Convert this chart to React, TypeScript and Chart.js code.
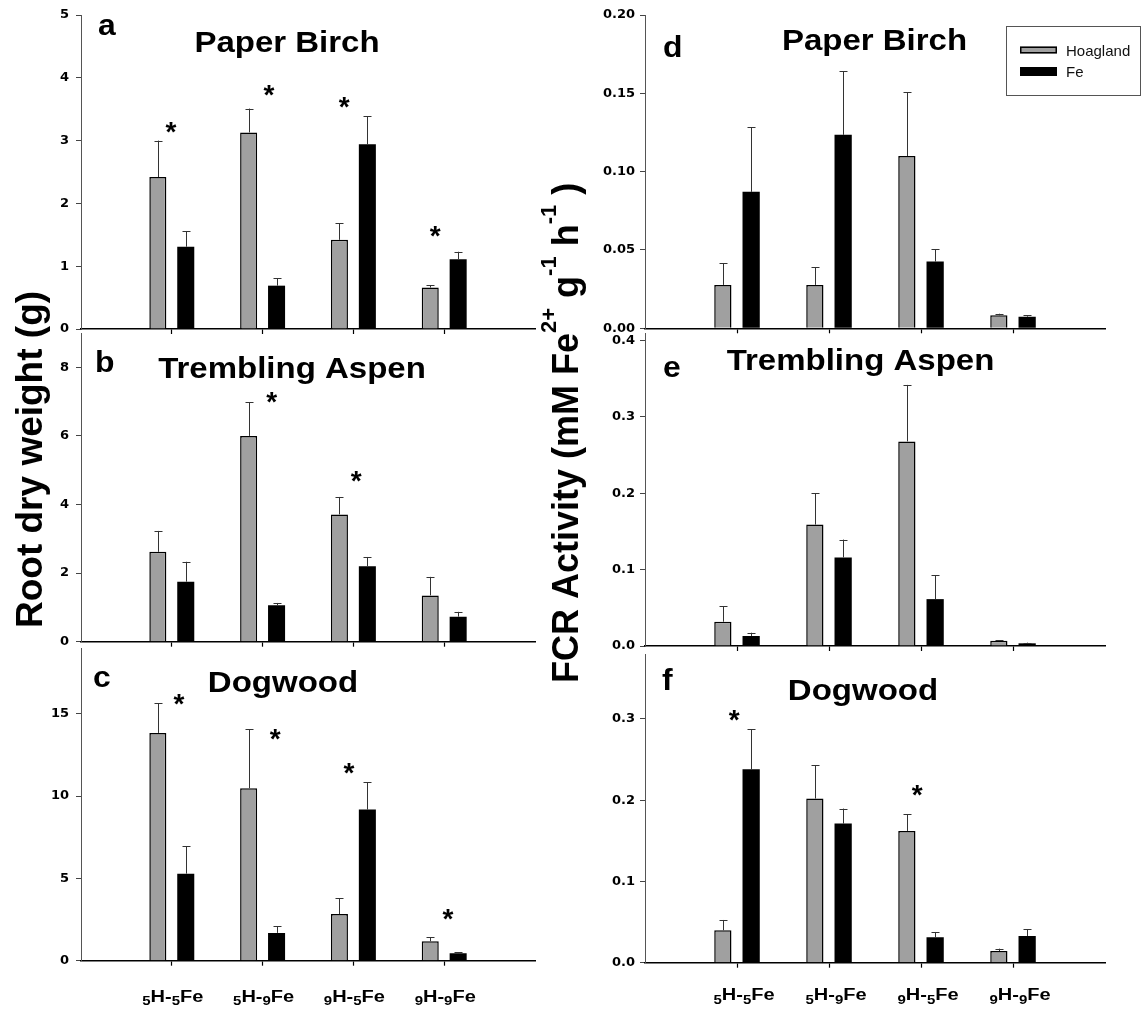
import React, { useEffect, useRef } from 'react';
import { Chart, registerables } from 'chart.js';

Chart.register(...registerables);

const W = 1143;
const H = 1010;

const categories = ['5H-5Fe', '5H-9Fe', '9H-5Fe', '9H-9Fe'];
const seriesNames = ['Hoagland', 'Fe'];

// ---- Root dry weight (g) ----
const birchRootHoagland = [2.42, 3.13, 1.42, 0.66];
const birchRootHoaglandSE = [0.58, 0.38, 0.26, 0.04];
const birchRootFe = [1.31, 0.69, 2.94, 1.11];
const birchRootFeSE = [0.25, 0.12, 0.45, 0.12];
const birchRootStars = [3.25, 3.83, 3.65, 1.59];
const birchRootTicks = [0, 1, 2, 3, 4, 5];

const aspenRootHoagland = [2.62, 6.0, 3.71, 1.35];
const aspenRootHoaglandSE = [0.61, 0.98, 0.51, 0.54];
const aspenRootFe = [1.75, 1.06, 2.2, 0.73];
const aspenRootFeSE = [0.58, 0.07, 0.27, 0.14];
const aspenRootStars = [null, 7.18, 4.9, null];
const aspenRootTicks = [0, 2, 4, 6, 8];

const dogwoodRootHoagland = [13.84, 10.48, 2.83, 1.18];
const dogwoodRootHoaglandSE = [1.81, 3.59, 0.96, 0.25];
const dogwoodRootFe = [5.29, 1.69, 9.18, 0.45];
const dogwoodRootFeSE = [1.65, 0.41, 1.65, 0.06];
const dogwoodRootStars = [16.0, 13.9, 11.8, 2.95];
const dogwoodRootTicks = [0, 5, 10, 15];

// ---- FCR activity ----
const birchFcrHoagland = [0.0277, 0.0277, 0.11, 0.0083];
const birchFcrHoaglandSE = [0.0138, 0.0113, 0.0408, 0.001];
const birchFcrFe = [0.0871, 0.1235, 0.0426, 0.0074];
const birchFcrFeSE = [0.0413, 0.0405, 0.0079, 0.0009];
const birchFcrStars = [null, null, null, null];
const birchFcrTicks = [0, 0.05, 0.1, 0.15, 0.2];

const aspenFcrHoagland = [0.0318, 0.159, 0.268, 0.007];
const aspenFcrHoaglandSE = [0.0205, 0.0414, 0.074, 0.0005];
const aspenFcrFe = [0.0131, 0.116, 0.0614, 0.0035];
const aspenFcrFeSE = [0.0043, 0.0234, 0.0314, 0.0009];
const aspenFcrStars = [null, null, null, null];
const aspenFcrTicks = [0, 0.1, 0.2, 0.3, 0.4];

const dogwoodFcrHoagland = [0.0399, 0.202, 0.1622, 0.0144];
const dogwoodFcrHoaglandSE = [0.0127, 0.0411, 0.0205, 0.0029];
const dogwoodFcrFe = [0.238, 0.1712, 0.0313, 0.0329];
const dogwoodFcrFeSE = [0.0494, 0.0185, 0.0065, 0.0082];
const dogwoodFcrStars = [0.307, null, 0.215, null];
const dogwoodFcrTicks = [0, 0.1, 0.2, 0.3];

const leftTitle = 'Root dry weight (g)';
const rightTitleParts = [
  { t: 'FCR Activity (mM Fe', sup: false },
  { t: '2+', sup: true },
  { t: ' g', sup: false },
  { t: '-1', sup: true },
  { t: ' h', sup: false },
  { t: '-1', sup: true },
  { t: ' )', sup: false },
];

// ---- layout / styling (not data) ----
const LEFT_COL = { left: 81, right: 535 };
const RIGHT_COL = { left: 645, right: 1105 };
const GRAY = '#a0a0a0';
const XH = 10;

type Panel = {
  letter: string;
  title: string;
  hoag: number[];
  hoagSE: number[];
  fe: number[];
  feSE: number[];
  stars: (number | null)[];
  starDx: number[];
  ticks: number[];
  yMax: number;
  decimals: number;
  area: { left: number; right: number; top: number; bottom: number };
  letterAt: [number, number];
  titleAt: [number, number];
  tickPad: number;
  showX?: boolean;
  labelDx?: number;
  labelBase?: number;
  legend?: boolean;
  leftTitle?: boolean;
  rightTitle?: boolean;
};

const panels: Panel[] = [
  {
    letter: 'a', title: 'Paper Birch',
    hoag: birchRootHoagland, hoagSE: birchRootHoaglandSE, fe: birchRootFe, feSE: birchRootFeSE,
    stars: birchRootStars, starDx: [-0.01, 0.07, -0.1, -0.1],
    ticks: birchRootTicks, yMax: 5, decimals: 0,
    area: { ...LEFT_COL, top: 15, bottom: 329 }, letterAt: [98, 35], titleAt: [287, 51.7], tickPad: 7,
  },
  {
    letter: 'b', title: 'Trembling Aspen',
    hoag: aspenRootHoagland, hoagSE: aspenRootHoaglandSE, fe: aspenRootFe, feSE: aspenRootFeSE,
    stars: aspenRootStars, starDx: [0, 0.1, 0.03, 0],
    ticks: aspenRootTicks, yMax: 9, decimals: 0,
    area: { ...LEFT_COL, top: 333, bottom: 641.7 }, letterAt: [95, 371.7], titleAt: [292, 378.3], tickPad: 7,
    leftTitle: true,
  },
  {
    letter: 'c', title: 'Dogwood',
    hoag: dogwoodRootHoagland, hoagSE: dogwoodRootHoaglandSE, fe: dogwoodRootFe, feSE: dogwoodRootFeSE,
    stars: dogwoodRootStars, starDx: [0.08, 0.14, -0.05, 0.04],
    ticks: dogwoodRootTicks, yMax: 19, decimals: 0,
    area: { ...LEFT_COL, top: 648, bottom: 960.7 }, letterAt: [93, 686.7], titleAt: [283, 691.7], tickPad: 7,
    showX: true, labelDx: 1, labelBase: 1001.5,
  },
  {
    letter: 'd', title: 'Paper Birch',
    hoag: birchFcrHoagland, hoagSE: birchFcrHoaglandSE, fe: birchFcrFe, feSE: birchFcrFeSE,
    stars: birchFcrStars, starDx: [0, 0, 0, 0],
    ticks: birchFcrTicks, yMax: 0.2, decimals: 2,
    area: { ...RIGHT_COL, top: 15, bottom: 328.3 }, letterAt: [663, 56.7], titleAt: [874.5, 50], tickPad: 5,
    legend: true,
  },
  {
    letter: 'e', title: 'Trembling Aspen',
    hoag: aspenFcrHoagland, hoagSE: aspenFcrHoaglandSE, fe: aspenFcrFe, feSE: aspenFcrFeSE,
    stars: aspenFcrStars, starDx: [0, 0, 0, 0],
    ticks: aspenFcrTicks, yMax: 0.41, decimals: 1,
    area: { ...RIGHT_COL, top: 333, bottom: 646 }, letterAt: [663, 376.7], titleAt: [860.5, 370], tickPad: 5,
    rightTitle: true,
  },
  {
    letter: 'f', title: 'Dogwood',
    hoag: dogwoodFcrHoagland, hoagSE: dogwoodFcrHoaglandSE, fe: dogwoodFcrFe, feSE: dogwoodFcrFeSE,
    stars: dogwoodFcrStars, starDx: [-0.03, 0, -0.04, 0],
    ticks: dogwoodFcrTicks, yMax: 0.38, decimals: 1,
    area: { ...RIGHT_COL, top: 654, bottom: 962.7 }, letterAt: [662, 690], titleAt: [863, 700], tickPad: 5,
    showX: true, labelDx: 7, labelBase: 1000,
  },
];

const BOLD = (px: number) => `bold ${px}px "Liberation Sans", Arial, sans-serif`;

function scaledText(ctx: CanvasRenderingContext2D, text: string, x: number, y: number, font: string, sx: number, align: 'left' | 'center') {
  ctx.save();
  ctx.font = font;
  ctx.textAlign = 'left';
  ctx.textBaseline = 'alphabetic';
  const w = ctx.measureText(text).width * sx;
  const x0 = align === 'center' ? x - w / 2 : x;
  ctx.translate(x0, y);
  ctx.scale(sx, 1);
  ctx.fillText(text, 0, 0);
  ctx.restore();
}

function makeChart(canvas: HTMLCanvasElement, p: Panel) {
  const labels = ['', ...categories, ''];
  const pad = (arr: any[]) => [null, ...arr, null];
  const hoagSE = pad(p.hoagSE);
  const feSE = pad(p.feSE);

  const decoPlugin = {
    id: 'deco' + p.letter,
    afterDatasetsDraw(chart: any) {
      const ctx: CanvasRenderingContext2D = chart.ctx;
      const ys = chart.scales.y;
      const seArr = [hoagSE, feSE];
      ctx.save();
      chart.data.datasets.forEach((ds: any, i: number) => {
        const meta = chart.getDatasetMeta(i);
        meta.data.forEach((bar: any, j: number) => {
          const v = ds.data[j];
          const se = seArr[i][j];
          if (v == null || se == null) return;
          const top = ys.getPixelForValue(v + se);
          const x = Math.round(bar.x) + 0.5;
          ctx.strokeStyle = '#333';
          ctx.lineWidth = 1;
          ctx.beginPath();
          ctx.moveTo(x, bar.y);
          ctx.lineTo(x, top);
          ctx.moveTo(x - 4, Math.round(top) + 0.5);
          ctx.lineTo(x + 4, Math.round(top) + 0.5);
          ctx.stroke();
        });
      });
      ctx.restore();
    },
    afterDraw(chart: any) {
      const ctx: CanvasRenderingContext2D = chart.ctx;
      const xs = chart.scales.x;
      const ys = chart.scales.y;
      ctx.save();
      ctx.fillStyle = '#000';
      // panel letter and title
      scaledText(ctx, p.letter, p.letterAt[0], p.letterAt[1], BOLD(29), 1.1, 'left');
      scaledText(ctx, p.title, p.titleAt[0], p.titleAt[1], BOLD(30), 1.1, 'center');
      // significance stars
      const spacing = xs.getPixelForValue(2) - xs.getPixelForValue(1);
      p.stars.forEach((lv, k) => {
        if (lv == null) return;
        const x = xs.getPixelForValue(k + 1) + p.starDx[k] * spacing;
        const y = ys.getPixelForValue(lv);
        ctx.font = BOLD(28);
        ctx.textAlign = 'center';
        ctx.textBaseline = 'alphabetic';
        ctx.fillText('*', x, y + 16);
      });
      // category labels with subscript digits
      if (p.showX) {
        const sx = 1.25;
        categories.forEach((c, k) => {
          const parts = c.split(/(\d)/).filter((s) => s !== '');
          let total = 0;
          const widths = parts.map((s) => {
            const sub = /^\d$/.test(s);
            ctx.font = BOLD(sub ? 12 : 16);
            const w = ctx.measureText(s).width;
            total += w;
            return w;
          });
          const cx = xs.getPixelForValue(k + 1) + (p.labelDx || 0);
          ctx.save();
          ctx.translate(cx - (total * sx) / 2, p.labelBase || 1000);
          ctx.scale(sx, 1);
          ctx.textAlign = 'left';
          ctx.textBaseline = 'alphabetic';
          let x = 0;
          parts.forEach((s, m) => {
            const sub = /^\d$/.test(s);
            ctx.font = BOLD(sub ? 12 : 16);
            ctx.fillText(s, x, sub ? 3.5 : 0);
            x += widths[m];
          });
          ctx.restore();
        });
      }
      // legend
      if (p.legend) {
        ctx.strokeStyle = '#555';
        ctx.lineWidth = 1;
        ctx.strokeRect(1006.5, 26.5, 134, 69);
        ctx.fillStyle = GRAY;
        ctx.fillRect(1020, 46.5, 37, 7);
        ctx.strokeStyle = '#000';
        ctx.lineWidth = 1.5;
        ctx.strokeRect(1020.75, 47.25, 35.5, 5.5);
        ctx.fillStyle = '#000';
        ctx.fillRect(1020, 67, 37, 9);
        ctx.font = '15px "Liberation Sans", Arial, sans-serif';
        ctx.textAlign = 'left';
        ctx.textBaseline = 'alphabetic';
        ctx.fillStyle = '#111';
        ctx.fillText(seriesNames[0], 1066, 56);
        ctx.fillText(seriesNames[1], 1066, 76.5);
      }
      // left y title
      if (p.leftTitle) {
        ctx.save();
        ctx.translate(42, 628);
        ctx.rotate(-Math.PI / 2);
        ctx.font = BOLD(37);
        ctx.fillStyle = '#000';
        ctx.textAlign = 'left';
        ctx.textBaseline = 'alphabetic';
        ctx.fillText(leftTitle, 0, 0);
        ctx.restore();
      }
      // right y title with superscripts
      if (p.rightTitle) {
        ctx.save();
        ctx.translate(578, 683);
        ctx.rotate(-Math.PI / 2);
        ctx.fillStyle = '#000';
        ctx.textAlign = 'left';
        ctx.textBaseline = 'alphabetic';
        let x = 0;
        rightTitleParts.forEach((part) => {
          ctx.font = BOLD(part.sup ? 22 : 36);
          ctx.fillText(part.t, x, part.sup ? -22 : 0);
          x += ctx.measureText(part.t).width;
        });
        ctx.restore();
      }
      ctx.restore();
    },
  };

  return new Chart(canvas, {
    type: 'bar',
    data: {
      labels,
      datasets: [
        {
          label: seriesNames[0],
          data: pad(p.hoag),
          backgroundColor: GRAY,
          borderColor: '#000',
          borderWidth: 1.5,
          categoryPercentage: 0.615,
          barPercentage: 0.61,
        },
        {
          label: seriesNames[1],
          data: pad(p.fe),
          backgroundColor: '#000',
          borderColor: '#000',
          borderWidth: 0,
          categoryPercentage: 0.615,
          barPercentage: 0.61,
        },
      ],
    },
    options: {
      responsive: false,
      animation: false,
      devicePixelRatio: 1,
      events: [],
      layout: {
        padding: {
          left: 0,
          top: p.area.top,
          right: W - p.area.right,
          bottom: H - p.area.bottom - XH,
        },
      },
      plugins: {
        legend: { display: false },
        tooltip: { enabled: false },
        title: { display: false },
      },
      scales: {
        x: {
          type: 'category',
          offset: false,
          grid: {
            display: true,
            offset: false,
            drawOnChartArea: false,
            drawTicks: true,
            tickLength: 5,
            tickWidth: 1.2,
            tickColor: (c: any) => (c.index === 0 || c.index === 5 ? 'rgba(0,0,0,0)' : '#000'),
          },
          border: { display: true, color: '#000', width: 1.5 },
          ticks: { autoSkip: false, maxRotation: 0, padding: 0, callback: () => '' },
          afterFit: (s: any) => {
            s.height = XH;
          },
        },
        y: {
          type: 'linear',
          min: 0,
          max: p.yMax,
          grid: {
            display: true,
            drawOnChartArea: false,
            drawTicks: true,
            tickLength: 5,
            tickWidth: 1,
            tickColor: '#444',
          },
          border: { display: true, color: '#555', width: 1 },
          ticks: {
            padding: p.tickPad,
            color: '#000',
            font: { family: '"DejaVu Sans"', size: 13, weight: 'bold' },
            callback: (v: any) => Number(v).toFixed(p.decimals),
          },
          afterBuildTicks: (s: any) => {
            s.ticks = p.ticks.map((v) => ({ value: v }));
          },
          afterFit: (s: any) => {
            s.width = p.area.left;
          },
        },
      },
    } as any,
    plugins: [decoPlugin],
  });
}

export default function App() {
  const refs = useRef<(HTMLCanvasElement | null)[]>([]);
  useEffect(() => {
    const charts = panels.map((p, i) => makeChart(refs.current[i] as HTMLCanvasElement, p));
    return () => {
      charts.forEach((c) => c.destroy());
    };
  }, []);
  return (
    <div style={{ position: 'absolute', left: 0, top: 0, width: W, height: H, background: '#fff', overflow: 'hidden' }}>
      {panels.map((p, i) => (
        <canvas
          key={p.letter}
          ref={(el) => {
            refs.current[i] = el;
          }}
          width={W}
          height={H}
          style={{ position: 'absolute', left: 0, top: 0, width: W, height: H }}
        />
      ))}
    </div>
  );
}
